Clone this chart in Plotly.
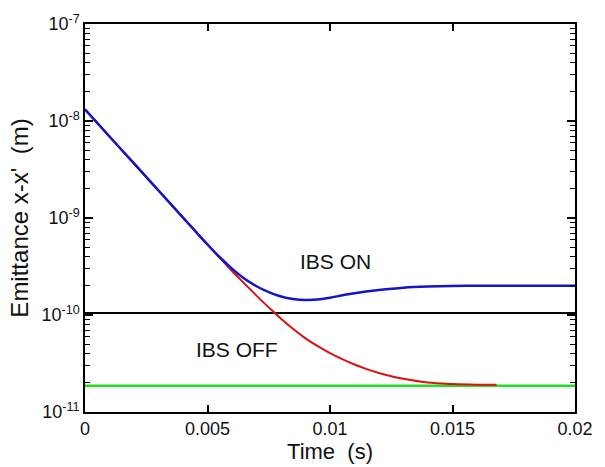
import math
import plotly.graph_objects as go

# ---- data ----
t_on = [0, 0.001, 0.002, 0.003, 0.004, 0.0045, 0.005, 0.0055, 0.006, 0.0065,
        0.007, 0.0075, 0.008, 0.0085, 0.009, 0.0095, 0.010, 0.0105, 0.011,
        0.012, 0.013, 0.014, 0.015, 0.016, 0.017, 0.018, 0.019, 0.020]
eps_on = [1.315e-8, 6.92e-9, 3.65e-9, 1.92e-9, 1.01e-9, 7.33e-10, 5.33e-10,
          3.94e-10, 3.01e-10, 2.38e-10, 1.98e-10, 1.72e-10, 1.55e-10, 1.46e-10,
          1.427e-10, 1.442e-10, 1.507e-10, 1.596e-10, 1.679e-10, 1.811e-10,
          1.914e-10, 1.968e-10, 1.995e-10, 2.0e-10, 2.0e-10, 2.0e-10, 2.0e-10,
          2.0e-10]

t_off = [0, 0.001, 0.002, 0.003, 0.004, 0.0045, 0.005, 0.0055, 0.006, 0.0065,
         0.007, 0.0075, 0.008, 0.0085, 0.009, 0.0095, 0.010, 0.0105, 0.011,
         0.0115, 0.012, 0.0125, 0.013, 0.014, 0.015, 0.016, 0.0168]
eps_off = [1.315e-8, 6.92e-9, 3.65e-9, 1.92e-9, 1.01e-9, 7.33e-10, 5.33e-10,
           3.89e-10, 2.84e-10, 2.12e-10, 1.585e-10, 1.198e-10, 9.16e-11,
           7.17e-11, 5.75e-11, 4.77e-11, 4.05e-11, 3.51e-11, 3.09e-11,
           2.77e-11, 2.52e-11, 2.34e-11, 2.20e-11, 2.01e-11, 1.94e-11,
           1.91e-11, 1.905e-11]

t_ref = [0, 0.02]
eps_black = [1.05e-10, 1.05e-10]
eps_green = [1.86e-11, 1.86e-11]

x_tickvals = [0, 0.005, 0.01, 0.015, 0.02]
x_ticktext = ["0", "0.005", "0.01", "0.015", "0.02"]
y_tickvals = [1e-11, 1e-10, 1e-9, 1e-8, 1e-7]
y_ticktext = ["10<sup>-11</sup>", "10<sup>-10</sup>", "10<sup>-9</sup>",
              "10<sup>-8</sup>", "10<sup>-7</sup>"]
y_minor_mult = [2, 3, 4, 5, 6, 7, 8, 9]
y_decades = [1e-11, 1e-10, 1e-9, 1e-8]

labels = ["IBS ON", "IBS OFF"]
label_x = [0.01024, 0.00622]
label_y = [3.54e-10, 4.38e-11]

FONT = "Arial, Liberation Sans, sans-serif"

y_minor_vals = [m * d for d in y_decades for m in y_minor_mult]

fig = go.Figure()
fig.add_trace(go.Scatter(x=t_ref, y=eps_green, mode="lines",
                         line=dict(color="#1ee01e", width=2.5), showlegend=False))
fig.add_trace(go.Scatter(x=t_ref, y=eps_black, mode="lines",
                         line=dict(color="black", width=2), showlegend=False))
fig.add_trace(go.Scatter(x=t_off, y=eps_off, mode="lines",
                         line=dict(color="#dd1010", width=2, shape="spline"),
                         showlegend=False))
fig.add_trace(go.Scatter(x=t_on, y=eps_on, mode="lines",
                         line=dict(color="#1414c8", width=2.5, shape="spline"),
                         showlegend=False))

for txt, lx, ly in zip(labels, label_x, label_y):
    fig.add_annotation(x=lx, y=math.log10(ly), text=txt,
                       showarrow=False, xanchor="center", yanchor="middle",
                       font=dict(family=FONT, size=21, color="#111"))

fig.update_layout(
    width=605, height=467,
    margin=dict(l=85, r=22, t=20, b=52),
    paper_bgcolor="white", plot_bgcolor="white",
    font=dict(family=FONT, color="#111"),
)
fig.update_xaxes(
    range=[0, 0.02], tickmode="array", tickvals=x_tickvals, ticktext=x_ticktext,
    ticks="inside", ticklen=7, tickwidth=1.5, tickcolor="black",
    showline=True, linecolor="black", linewidth=1.5, mirror="ticks",
    showgrid=False, zeroline=False,
    tickfont=dict(size=18, family=FONT, color="#111"),
    title=dict(text="Time  (s)", font=dict(size=22, family=FONT, color="#111"),
               standoff=0),
)
fig.update_yaxes(
    type="log", range=[-11, -7], tickmode="array", tickvals=y_tickvals,
    ticktext=y_ticktext,
    ticks="inside", ticklen=8, tickwidth=1.5, tickcolor="black",
    minor=dict(ticks="inside", ticklen=5, tickwidth=1.2, tickcolor="black",
               tickmode="array", tickvals=y_minor_vals, showgrid=False),
    showline=True, linecolor="black", linewidth=1.5, mirror="ticks",
    showgrid=False, zeroline=False,
    tickfont=dict(size=18, family=FONT, color="#111"),
    title=dict(text="Emittance x-x'  (m)",
               font=dict(size=24, family=FONT, color="#111"), standoff=6),
)

fig.write_html("out.html")
